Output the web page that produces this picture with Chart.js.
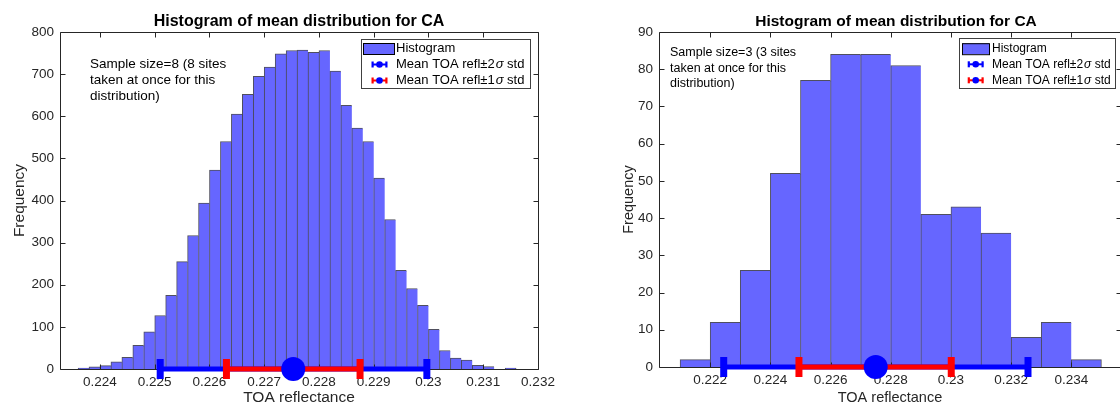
<!DOCTYPE html>
<html>
<head>
<meta charset="utf-8">
<script src="https://cdn.jsdelivr.net/npm/chart.js@4.4.1/dist/chart.umd.min.js"></script>
<style>
  html, body { margin: 0; padding: 0; background: #fff; overflow: hidden; width: 1120px; height: 407px; }
  .panel { position: absolute; top: 0; }
  #panelA { left: 0; }
  #panelB { left: 600px; }
</style>
</head>
<body>
<div class="panel" id="panelA"><canvas id="chartA" width="560" height="407"></canvas></div>
<div class="panel" id="panelB"><canvas id="chartB" width="560" height="407"></canvas></div>
<script>
// ---- data: sample size 8 (bins of 0.0002) ----
const binCentersA = [0.2237, 0.2239, 0.2241, 0.2243, 0.2245, 0.2247, 0.2249, 0.2251, 0.2253, 0.2255,
                     0.2257, 0.2259, 0.2261, 0.2263, 0.2265, 0.2267, 0.2269, 0.2271, 0.2273, 0.2275,
                     0.2277, 0.2279, 0.2281, 0.2283, 0.2285, 0.2287, 0.2289, 0.2291, 0.2293, 0.2295,
                     0.2297, 0.2299, 0.2301, 0.2303, 0.2305, 0.2307, 0.2309, 0.2311, 0.2313, 0.2315];
const countsA = [2, 5, 8, 17, 28, 56, 88, 127, 175, 255,
                 317, 394, 472, 540, 605, 652, 695, 717, 748, 756,
                 757, 752, 756, 707, 626, 572, 540, 453, 355, 234,
                 191, 151, 94, 44, 26, 21, 9, 6, 0, 2];
const meanA = 0.22753;
const sd1A = [0.22631, 0.22875];
const sd2A = [0.22510, 0.22997];
const xTicksA = [0.224, 0.225, 0.226, 0.227, 0.228, 0.229, 0.230, 0.231, 0.232];
const yTicksA = [0, 100, 200, 300, 400, 500, 600, 700, 800];
const noteA = ["Sample size=8 (8 sites", "taken at once for this", "distribution)"];

// ---- data: sample size 3 (bins of 0.001) ----
const binCentersB = [0.2215, 0.2225, 0.2235, 0.2245, 0.2255, 0.2265, 0.2275,
                     0.2285, 0.2295, 0.2305, 0.2315, 0.2325, 0.2335, 0.2345];
const countsB = [2, 12, 26, 52, 77, 84, 84, 81, 41, 43, 36, 8, 12, 2];
const meanB = 0.22750;
const sd1B = [0.22495, 0.23001];
const sd2B = [0.22245, 0.23256];
const xTicksB = [0.222, 0.224, 0.226, 0.228, 0.230, 0.232, 0.234];
const yTicksB = [0, 10, 20, 30, 40, 50, 60, 70, 80, 90];
const noteB = ["Sample size=3 (3 sites", "taken at once for this", "distribution)"];

const chartTitle = "Histogram of mean distribution for CA";
const legendLabels = ["Histogram", "Mean TOA refl\u00b12", "Mean TOA refl\u00b11"];

const FAM = '"Liberation Sans", Arial, Helvetica, sans-serif';
const AX = '#262626';
const BAR = '#6666ff';
Chart.defaults.font.family = FAM;
Chart.defaults.color = AX;

const fmt = v => String(Number(v.toFixed(4)));

// box + inward ticks, drawn right after the bars so error bars sit on top
const frame = {
  id: 'frame',
  afterDatasetDraw(chart, args, o) {
    if (args.index !== 0) return;
    const { ctx, chartArea: a, scales } = chart;
    const L = Math.round(a.left) + 0.5, R = Math.round(a.right) + 0.5;
    const T = Math.round(a.top) + 0.5, B = Math.round(a.bottom) + 0.5;
    ctx.save();
    ctx.strokeStyle = AX;
    ctx.lineWidth = 1;
    ctx.beginPath();
    ctx.rect(L, T, R - L, B - T);
    scales.x.ticks.forEach(t => {
      const px = Math.round(scales.x.getPixelForValue(t.value)) + 0.5;
      ctx.moveTo(px, B); ctx.lineTo(px, B - o.tick);
      ctx.moveTo(px, T); ctx.lineTo(px, T + o.tick);
    });
    scales.y.ticks.forEach(t => {
      const py = Math.round(scales.y.getPixelForValue(t.value)) + 0.5;
      ctx.moveTo(L, py); ctx.lineTo(L + o.tick, py);
      ctx.moveTo(R, py); ctx.lineTo(R - o.tick, py);
    });
    ctx.stroke();
    ctx.restore();
  },
  afterDraw(chart, args, o) {
    const { ctx, chartArea: a } = chart;
    ctx.save();
    // title
    ctx.fillStyle = '#000';
    ctx.font = `bold ${o.titleSize}px ${FAM}`;
    ctx.textAlign = 'center';
    ctx.textBaseline = 'alphabetic';
    ctx.fillText(chartTitle, o.titleX != null ? o.titleX : (a.left + a.right) / 2, o.titleY);
    // note text
    ctx.font = `${o.noteSize}px ${FAM}`;
    ctx.textAlign = 'left';
    ctx.textBaseline = 'middle';
    o.note.forEach((s, i) => ctx.fillText(s, o.noteX, o.noteY[i]));
    // legend
    const g = o.legend;
    ctx.fillStyle = '#fff';
    ctx.fillRect(g.x, g.y, g.w, g.h);
    ctx.strokeStyle = '#404040';
    ctx.lineWidth = 1;
    ctx.strokeRect(g.x + 0.5, g.y + 0.5, g.w, g.h);
    ctx.fillStyle = BAR;
    ctx.fillRect(g.sx, g.rows[0] - 5.5, g.sw, 11);
    ctx.strokeStyle = '#000';
    ctx.strokeRect(g.sx + 0.5, g.rows[0] - 5, g.sw, 11);
    ctx.fillStyle = '#000';
    ctx.font = `${g.size}px ${FAM}`;
    ctx.fillText(legendLabels[0], g.tx, g.rows[0]);
    [['#0000ff', 1], ['#ff0000', 2]].forEach(([col, r]) => {
      const y = g.rows[r], cx = g.ix;
      ctx.fillStyle = col;
      ctx.fillRect(cx - 7.5, y - 1, 15, 2);
      ctx.fillRect(cx - 8, y - 3, 2.2, 6);
      ctx.fillRect(cx + 5.8, y - 3, 2.2, 6);
      ctx.fillStyle = '#0000ff';
      ctx.beginPath();
      ctx.arc(cx, y, 3.3, 0, Math.PI * 2);
      ctx.fill();
      ctx.fillStyle = '#000';
      ctx.font = `${g.size}px ${FAM}`;
      let x = g.tx;
      ctx.fillText(legendLabels[r], x, y);
      x += ctx.measureText(legendLabels[r]).width + 1;
      ctx.font = `italic ${g.size}px ${FAM}`;
      ctx.fillText('\u03c3', x, y);
      x += ctx.measureText('\u03c3').width;
      ctx.font = `${g.size}px ${FAM}`;
      ctx.fillText(' std', x, y);
    });
    ctx.restore();
  }
};

function makeChart(id, p) {
  const last = p.centers.length - 1;
  const errLine = (lo, hi, col, order) => ({
    type: 'line', data: [{ x: lo, y: 0 }, { x: hi, y: 0 }],
    borderColor: col, borderWidth: 5, pointRadius: 0, clip: false, order
  });
  const caps = (lo, hi, col, order) => ({
    type: 'scatter', data: [{ x: lo, y: 0 }, { x: hi, y: 0 }],
    pointStyle: 'line', rotation: 90, radius: 10, borderWidth: 7,
    borderColor: col, clip: false, order
  });
  return new Chart(document.getElementById(id), {
    type: 'bar',
    data: {
      datasets: [
        {
          data: p.centers.map((c, i) => ({ x: c, y: p.counts[i] })),
          backgroundColor: BAR,
          borderColor: 'rgba(20,20,40,0.75)',
          borderWidth: ctx => ({ left: 1, top: 1, right: ctx.dataIndex === last ? 1 : 0, bottom: 0 }),
          borderSkipped: false,
          barPercentage: 1, categoryPercentage: 1, order: 9
        },
        errLine(p.sd2[0], p.sd2[1], '#0000ff', 5),
        errLine(p.sd1[0], p.sd1[1], '#ff0000', 4),
        caps(p.sd2[0], p.sd2[1], '#0000ff', 3),
        caps(p.sd1[0], p.sd1[1], '#ff0000', 2),
        {
          type: 'scatter', data: [{ x: p.mean, y: 0 }],
          pointStyle: 'circle', radius: 12, backgroundColor: '#0000ff',
          borderWidth: 0, clip: false, order: 0
        }
      ]
    },
    options: {
      responsive: false,
      animation: false,
      events: [],
      layout: { padding: { top: p.top, right: p.right, left: 0, bottom: 0 } },
      plugins: {
        legend: { display: false },
        tooltip: { enabled: false },
        frame: p.frame
      },
      scales: {
        x: {
          type: 'linear', min: p.xmin, max: p.xmax, offset: false,
          afterBuildTicks: s => { s.ticks = p.xTicks.map(v => ({ value: v })); },
          afterFit: s => { s.height = p.xh; },
          grid: { display: false, drawTicks: false }, border: { display: false },
          ticks: { callback: v => fmt(v), font: { size: p.tickSize }, padding: 5, maxRotation: 0, autoSkip: false },
          title: { display: true, text: 'TOA reflectance', font: { size: p.labSize }, padding: { top: 0, bottom: p.xlabPad } }
        },
        y: {
          min: p.ymin, max: p.ymax,
          afterBuildTicks: s => { s.ticks = p.yTicks.map(v => ({ value: v })); },
          afterFit: s => { s.width = p.yw; },
          grid: { display: false, drawTicks: false }, border: { display: false },
          ticks: { font: { size: p.tickSize }, padding: 6 },
          title: { display: true, text: 'Frequency', font: { size: p.labSize }, padding: { top: p.ylabPad, bottom: 0 } }
        }
      }
    },
    plugins: [frame]
  });
}

makeChart('chartA', {
  centers: binCentersA, counts: countsA, mean: meanA, sd1: sd1A, sd2: sd2A,
  xTicks: xTicksA, yTicks: yTicksA, xmin: 0.22327, xmax: 0.232, ymin: 0, ymax: 800,
  top: 32, right: 22, xh: 38, yw: 60, tickSize: 13.5, labSize: 15.5, xlabPad: 0, ylabPad: 10,
  frame: {
    tick: 5, titleSize: 16, titleY: 26, note: noteA, noteX: 90, noteY: [64, 80, 96.5], noteSize: 13.5,
    legend: { x: 361, y: 39, w: 169, h: 49, sx: 363, sw: 31, tx: 396, ix: 379.5, rows: [48.5, 64.5, 80.5], size: 13 }
  }
});

makeChart('chartB', {
  centers: binCentersB, counts: countsB, mean: meanB, sd1: sd1B, sd2: sd2B,
  xTicks: xTicksB, yTicks: yTicksB, xmin: 0.2203, xmax: 0.23565, ymin: 0, ymax: 90,
  top: 32, right: 39, xh: 40, yw: 59, tickSize: 13.5, labSize: 14.5, xlabPad: 0, ylabPad: 20,
  frame: {
    tick: 5, titleSize: 15.5, titleX: 296, titleY: 26, note: noteB, noteX: 70, noteY: [52.3, 68.3, 84], noteSize: 12.5,
    legend: { x: 359, y: 38, w: 156, h: 50, sx: 362, sw: 27, tx: 392, ix: 375.7, rows: [48.7, 64.3, 80.3], size: 12 }
  }
});
</script>
</body>
</html>
